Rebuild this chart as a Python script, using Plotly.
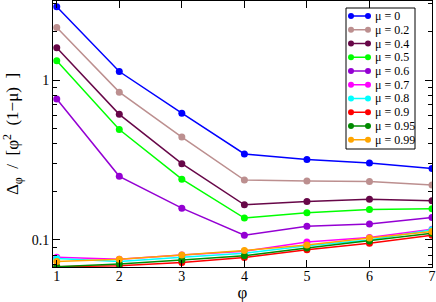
import plotly.graph_objects as go

phi = [1, 2, 3, 4, 5, 6, 7]
labels = ["μ = 0", "μ = 0.2", "μ = 0.4", "μ = 0.5", "μ = 0.6", "μ = 0.7", "μ = 0.8", "μ = 0.9", "μ = 0.95", "μ = 0.99"]
colors = ["#0000ff", "#bc8f8f", "#670748", "#00ff00", "#9400d3", "#ff00ff", "#00ffff", "#ff0000", "#008b00", "#ffa500"]

mu_0 = [2.87, 1.13, 0.62, 0.345, 0.318, 0.303, 0.280]
mu_02 = [2.13, 0.84, 0.44, 0.237, 0.234, 0.232, 0.221]
mu_04 = [1.59, 0.61, 0.30, 0.166, 0.174, 0.180, 0.176]
mu_05 = [1.32, 0.49, 0.24, 0.137, 0.148, 0.155, 0.157]
mu_06 = [0.76, 0.25, 0.158, 0.107, 0.122, 0.126, 0.138]
mu_07 = [0.078, 0.0758, 0.0806, 0.085, 0.097, 0.1035, 0.1166]
mu_08 = [0.0765, 0.0733, 0.078, 0.0826, 0.092, 0.100, 0.116]
mu_09 = [0.068, 0.069, 0.0722, 0.0776, 0.087, 0.0955, 0.107]
mu_095 = [0.068, 0.0708, 0.075, 0.0798, 0.089, 0.0986, 0.110]
mu_099 = [0.0733, 0.0758, 0.0806, 0.0858, 0.093, 0.103, 0.1128]
series = [mu_0, mu_02, mu_04, mu_05, mu_06, mu_07, mu_08, mu_09, mu_095, mu_099]

W, H = 436, 302
ML, MR, MT, MB = 53, 4, 1, 35
PW, PH = W - ML - MR, H - MT - MB

def px(x):
    return (x - ML) / PW

def py(y):
    return (H - MB - y) / PH

fig = go.Figure()
for lab, col, ys in zip(labels, colors, series):
    fig.add_trace(go.Scatter(x=phi, y=ys, name=lab, mode="lines+markers",
                             line=dict(color=col, width=1.5),
                             marker=dict(color=col, size=7, symbol="circle")))

font = "Liberation Serif"

# legend box drawn by hand (Grace-style compact legend)
shapes = [dict(type="rect", xref="paper", yref="paper",
               x0=px(346), x1=px(415), y0=py(149), y1=py(8),
               line=dict(color="black", width=1), fillcolor="white", layer="above")]
annotations = []
for i, (lab, col) in enumerate(zip(labels, colors)):
    yc = 16 + 13.75 * i
    shapes.append(dict(type="line", xref="paper", yref="paper",
                       x0=px(351), x1=px(368), y0=py(yc), y1=py(yc),
                       line=dict(color=col, width=1.5), layer="above"))
    for xc in (351, 368):
        shapes.append(dict(type="circle", xref="paper", yref="paper",
                           xsizemode="pixel", ysizemode="pixel",
                           xanchor=px(xc), yanchor=py(yc),
                           x0=-3, x1=3, y0=-3, y1=3,
                           fillcolor=col, line=dict(color=col, width=0), layer="above"))
    annotations.append(dict(text=lab, xref="paper", yref="paper", x=px(373), y=py(yc),
                            xanchor="left", yanchor="middle", showarrow=False,
                            font=dict(family=font, size=12, color="black")))

fig.update_layout(
    width=W, height=H,
    margin=dict(l=ML, r=MR, t=MT, b=MB, autoexpand=False),
    paper_bgcolor="white", plot_bgcolor="white",
    font=dict(family=font, size=14, color="black"),
    showlegend=False,
    shapes=shapes, annotations=annotations,
    xaxis=dict(range=[0.94, 7.0], tickvals=[1, 2, 3, 4, 5, 6, 7],
               ticks="inside", ticklen=7, tickcolor="black", showgrid=False,
               showline=True, linecolor="black", linewidth=1, mirror="ticks",
               zeroline=False, tickfont=dict(family=font, size=14), ticklabelstandoff=-4,
               title=dict(text="φ", font=dict(family=font, size=17), standoff=0)),
    yaxis=dict(type="log", range=[-1.169, 0.494], tickvals=[0.1, 1], ticktext=["0.1", "1"],
               ticks="inside", ticklen=7, tickcolor="black", showgrid=False,
               showline=True,
               linecolor="black", linewidth=1, mirror="ticks",
               zeroline=False, tickfont=dict(family=font, size=14),
               minor=dict(tickvals=[0.07, 0.08, 0.09, 0.2, 0.3, 0.4, 0.5, 0.6, 0.7, 0.8, 0.9, 2, 3],
                          ticks="inside", ticklen=4, tickcolor="black", showgrid=False),
               title=dict(text="Δ<sub>φ</sub>&nbsp;&nbsp;/&nbsp;&nbsp;[φ<sup>2</sup>&nbsp;&nbsp;(1−μ)&nbsp;&nbsp;]",
                          font=dict(family=font, size=17), standoff=14)),
)
fig.write_html("out.html", config={"displayModeBar": False},
               post_script="document.body.style.margin='0px';")
